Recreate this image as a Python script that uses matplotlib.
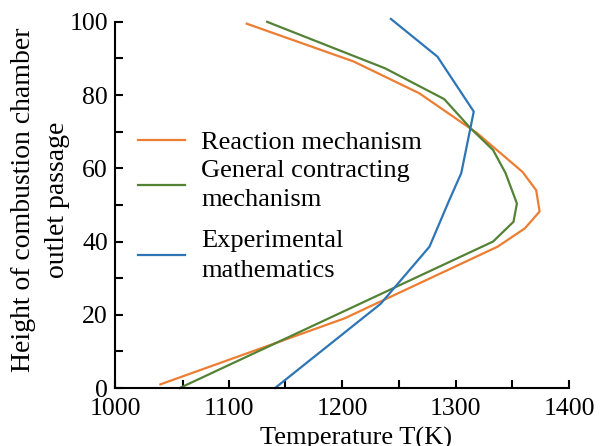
import matplotlib
matplotlib.use("Agg")
import matplotlib.pyplot as plt

plt.rcParams['font.family'] = ['Liberation Serif', 'DejaVu Serif']

# Reaction mechanism (orange)
react_t = [1040, 1202, 1337, 1361, 1374, 1371, 1359, 1319, 1268, 1210, 1116]
react_h = [1, 19, 38.6, 43.6, 48.2, 54, 59, 69.6, 80.5, 89.2, 99.5]

# General contracting mechanism (green)
general_t = [1057, 1333, 1351, 1354, 1344, 1333, 1313, 1290, 1238, 1134]
general_h = [0, 40, 45.4, 50.4, 58.7, 65, 71, 78.9, 87.3, 100]

# Experimental mathematics (blue)
exp_t = [1141, 1234, 1277, 1294, 1305, 1316, 1284, 1243]
exp_h = [0, 23, 38.6, 51, 58.7, 75.5, 90.5, 100.8]

x_major = [1000, 1100, 1200, 1300, 1400]
x_minor = [1060, 1150, 1250, 1350]

fig = plt.figure(figsize=(6.1, 4.46), dpi=100)
ax = fig.add_axes([0.1885, 0.130, 0.7445, 0.821])

l1, = ax.plot(react_t, react_h, color='#ED7D31', lw=1.6, label='Reaction mechanism', clip_on=False)
l2, = ax.plot(general_t, general_h, color='#548235', lw=1.6, label='General contracting\nmechanism', clip_on=False)
l3, = ax.plot(exp_t, exp_h, color='#2E75B6', lw=1.6, label='Experimental\nmathematics', clip_on=False)

ax.set_xlim(1000, 1400)
ax.set_ylim(0, 100)
ax.set_xticks(x_major)
ax.set_xticks(x_minor, minor=True)
ax.set_yticks(range(0, 101, 20))
ax.set_yticks(range(10, 100, 20), minor=True)

for s in ['top', 'right']:
    ax.spines[s].set_visible(False)
for s in ['left', 'bottom']:
    ax.spines[s].set_linewidth(1.5)

ax.tick_params(which='both', direction='in', length=6, width=1.5, labelsize=18.5)
ax.tick_params(axis='x', pad=7)
ax.tick_params(axis='y', pad=5)

ax.set_xlabel('Temperature T(K)', fontsize=19, labelpad=0)
ax.xaxis.set_label_coords(0.53, -0.105)
ax.set_ylabel('Height of combustion chamber\noutlet passage', fontsize=20, linespacing=1.5)
ax.yaxis.set_label_coords(-0.099, 0.514)

leg_kw = dict(loc='upper left', frameon=False, fontsize=19, borderpad=0,
              borderaxespad=0, handlelength=1.8, handletextpad=0.6)
leg1 = ax.legend(handles=[l1, l2], bbox_to_anchor=(0.05, 0.7036),
                 labelspacing=0.23, **leg_kw)
for t in leg1.get_texts():
    t.set_linespacing(1.43)
ax.add_artist(leg1)
leg2 = ax.legend(handles=[l3], bbox_to_anchor=(0.05, 0.4303), **leg_kw)
for t in leg2.get_texts():
    t.set_linespacing(1.43)

fig.savefig('out.png', dpi=100)
